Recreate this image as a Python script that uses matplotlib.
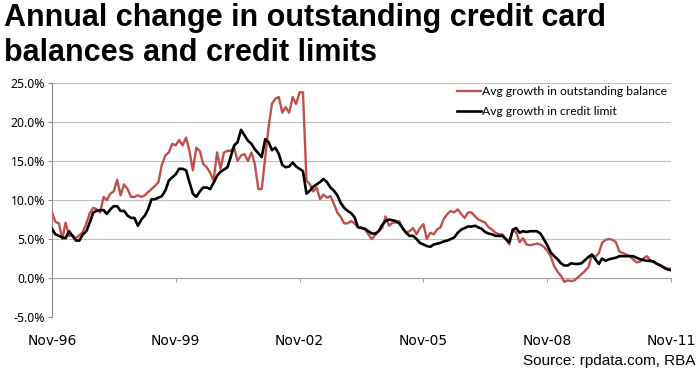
import matplotlib
matplotlib.use("Agg")
import matplotlib.pyplot as plt
import matplotlib.dates as mdates
import numpy as np
import pandas as pd

# monthly observations, Nov-96 to Nov-11
start_month = "1996-11-01"
n_months = 181

# avg growth in outstanding balance (%)
balance_growth = [
    8.4, 7.2, 7.0, 5.0, 7.1, 5.4, 5.5, 5.1, 5.5, 5.9, 7.0, 8.3, 9.0, 8.8, 8.4, 10.4,
    10.0, 10.8, 11.1, 12.6, 10.6, 12.0, 11.4, 10.4, 10.4, 10.6, 10.4, 10.6, 11.0, 11.4,
    11.8, 12.3,
    14.5, 15.7, 16.1, 17.2, 17.0, 17.7, 17.0, 18.0, 16.3, 13.8, 16.7, 16.3, 14.6, 14.2,
    13.5, 12.5, 16.1, 14.0, 16.1, 16.3, 16.3, 16.7, 15.0, 15.7, 15.9, 15.0, 16.1, 14.6,
    11.4, 11.4,
    15.5, 19.5, 22.3, 23.0, 23.2, 21.2, 21.9, 21.2, 23.2, 22.3, 23.8, 23.8, 12.5, 12.0,
    11.1, 11.6, 10.1, 10.7, 10.3, 10.5, 9.5, 8.4, 7.8, 7.0, 7.0, 7.3, 7.0, 6.5, 6.5,
    6.3, 5.6, 5.0, 5.5, 6.0, 6.4, 7.9, 6.7, 7.1, 7.1, 7.3, 6.3, 5.8, 6.0, 6.4, 5.6,
    6.4, 6.9, 5.0, 5.8, 5.6, 6.2, 6.5, 7.6, 8.2, 8.6, 8.4, 8.8, 8.2, 7.7, 8.4, 8.4,
    7.9, 7.5, 7.3, 7.1, 6.5, 6.2, 5.8, 5.6, 5.6, 5.0, 4.3, 6.2, 5.8, 4.6, 5.1, 4.3,
    4.2, 4.3, 4.4, 4.3, 4.0, 3.5, 2.8, 1.5, 0.8, 0.3, -0.5, -0.3, -0.4,
    -0.3, 0.1, 0.5, 0.9, 1.4, 3.0, 2.7, 3.2, 4.5, 4.9, 5.0, 4.9, 4.6, 3.4, 3.2, 3.0,
    2.8, 2.4, 2.0, 2.1, 2.5, 2.8, 2.3, 2.0, 1.8, 1.6, 1.4, 1.2, 1.2,
]

# avg growth in credit limit (%)
limit_growth = [
    6.3, 5.6, 5.4, 5.2, 5.1, 6.0, 5.4, 4.8, 4.8, 5.6, 6.0, 7.1, 8.4, 8.6, 8.7, 8.7,
    8.2, 8.8, 9.2, 9.2, 8.6, 8.6, 8.0, 7.7, 7.7, 6.7, 7.5, 8.0, 8.8, 10.1,
    10.1, 10.3, 10.5, 11.2, 12.5, 12.9, 13.3, 14.0, 14.0, 13.8, 12.3, 10.8, 10.4, 11.1,
    11.6, 11.6, 11.4, 12.2, 13.1, 13.6, 13.9, 14.2, 15.5, 17.0, 17.4, 19.0, 18.3, 17.6,
    17.2, 16.5, 16.0, 15.5,
    17.8, 17.4, 16.4, 16.7, 15.9, 14.5, 14.2, 14.3, 14.8, 14.3, 14.0, 13.7, 10.8, 11.2,
    11.7, 12.0, 12.3, 12.7, 12.3, 11.6, 11.2, 10.6, 9.6, 9.0, 8.6, 8.3, 7.8, 6.5, 6.4,
    6.3,
    6.0, 5.7, 5.7, 6.0, 6.8, 7.3, 7.5, 7.4, 7.3, 7.0, 6.4, 5.8, 5.4, 5.4, 5.0, 4.5,
    4.3, 4.1, 4.0, 4.3, 4.4, 4.5, 4.7, 4.8, 5.0, 5.2, 5.8, 6.2, 6.4, 6.6, 6.6,
    6.7, 6.5, 6.3, 5.9, 5.7, 5.6, 5.4, 5.4, 5.4, 5.0, 4.6, 6.2, 6.4, 5.8, 6.0, 5.9,
    6.0, 6.0, 6.0, 5.7, 5.0, 4.2, 3.3, 2.8, 2.4, 1.9, 1.6, 1.6, 1.9, 1.8, 1.8, 1.9,
    2.3, 2.7, 3.0, 2.4, 1.8, 2.5, 2.2, 2.4, 2.5, 2.6, 2.8, 2.8, 2.8, 2.8, 2.8, 2.6,
    2.4, 2.3, 2.2, 2.2, 2.1, 1.8, 1.6, 1.3, 1.1, 1.0,
]

tick_years = [1996, 1999, 2002, 2005, 2008, 2011]
y_ticks = [-5, 0, 5, 10, 15, 20, 25]

months = pd.date_range(start_month, periods=n_months, freq="MS")

fig = plt.figure(figsize=(7, 3.83), dpi=100)
ax = fig.add_axes([52 / 700, 1 - 317 / 383, 619 / 700, 234 / 383])

ax.plot(months, balance_growth, color="#C0504D", lw=1.7,
        label="Avg growth in outstanding balance", zorder=3)
ax.plot(months, limit_growth, color="black", lw=1.9,
        label="Avg growth in credit limit", zorder=4)

ax.set_xlim(months[0], months[-1])
ax.set_ylim(-5, 25)
ax.set_yticks(y_ticks)
ax.set_yticklabels([f"{v:.1f}%" for v in y_ticks], family="Noto Sans", fontsize=8.8)
ax.grid(axis="y", color="#BFBFBF", lw=0.8)
ax.set_axisbelow(True)

ax.set_xticks([pd.Timestamp(f"{y}-11-01") for y in tick_years])
ax.xaxis.set_major_formatter(mdates.DateFormatter("%b-%y"))
for lab in ax.get_xticklabels():
    lab.set_family("Liberation Sans")
    lab.set_fontsize(8.8)

for s in ["top", "right"]:
    ax.spines[s].set_visible(False)
ax.spines["left"].set_color("#8C8C8C")
ax.spines["bottom"].set_position(("data", 0))
ax.spines["bottom"].set_color("#A6A6A6")
ax.tick_params(axis="y", length=3, color="#8C8C8C", pad=2)
ax.tick_params(axis="x", length=3, color="#A6A6A6", pad=37)

leg = ax.legend(loc="upper left", bbox_to_anchor=(457 / 700, 1 - 86 / 383),
                bbox_transform=fig.transFigure, frameon=False,
                prop={"family": "Lato", "size": 8.7}, handlelength=2.0,
                handletextpad=0.05, labelspacing=0.78, borderaxespad=0, borderpad=0)

fig.text(4 / 700, 1 - 3 / 383,
         "Annual change in outstanding credit card\nbalances and credit limits",
         ha="left", va="top", fontsize=22, fontweight="bold",
         family="Liberation Sans", linespacing=1.22)
fig.text(695 / 700, 1 - 361 / 383, "Source: rpdata.com, RBA", ha="right",
         va="center", fontsize=11, family="Liberation Sans")

fig.savefig("out.png", dpi=100)
